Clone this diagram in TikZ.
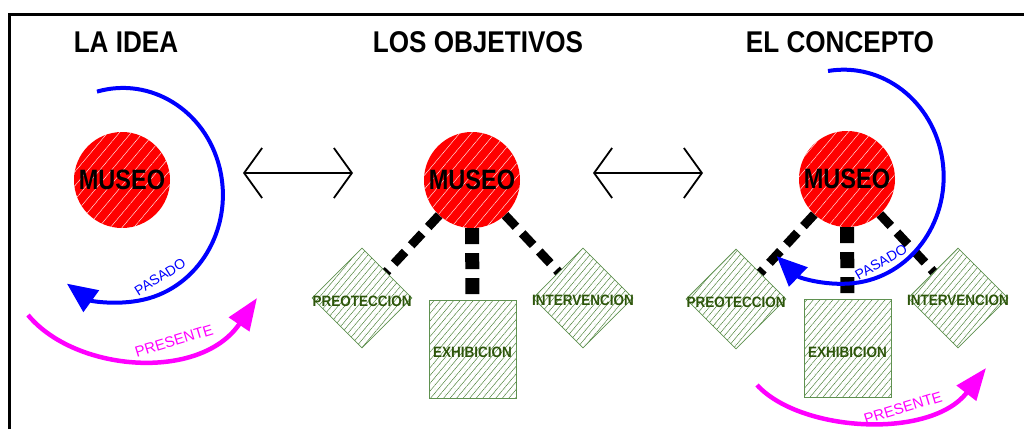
\documentclass[tikz,border=0pt]{standalone}
\usepackage{fontspec}
\usetikzlibrary{shapes.geometric,arrows.meta,patterns.meta}
\setmainfont{Liberation Sans}
\newfontfamily\headfont[FakeStretch=0.87]{Liberation Sans Bold}
\newfontfamily\museofont[FakeStretch=0.84]{Liberation Sans Bold}
\newfontfamily\objfont[FakeStretch=0.9]{Liberation Sans Bold}
\definecolor{objgreen}{RGB}{70,125,50}
\definecolor{objtextgreen}{RGB}{45,85,10}
\definecolor{objborder}{RGB}{95,145,80}
\definecolor{pinkline}{RGB}{255,0,255}
\definecolor{blueline}{RGB}{0,0,255}
\tikzset{
  title/.style={font=\headfont\fontsize{30}{30}\selectfont},
  museo/.style={circle,minimum size=96pt,inner sep=0pt,
    preaction={fill=red},
    pattern={Lines[angle=50,distance=9pt,line width=0.4pt]},pattern color=white,
    font=\museofont\fontsize{28}{28}\selectfont},
  objdiamond/.style={diamond,aspect=1,minimum size=100pt,inner sep=0pt,
    draw=objborder,line width=0.8pt,
    preaction={pattern={Dots[distance=5pt,radius=0.35pt]},pattern color=objgreen!70},
    pattern={Lines[angle=50,distance=5pt,line width=0.45pt]},pattern color=objgreen},
  objbox/.style={rectangle,minimum width=87pt,minimum height=98pt,inner sep=0pt,
    draw=objborder,line width=0.8pt,
    preaction={pattern={Dots[distance=5pt,radius=0.35pt]},pattern color=objgreen!70},
    pattern={Lines[angle=50,distance=5pt,line width=0.45pt]},pattern color=objgreen},
  objtext/.style={font=\objfont\fontsize{15}{15}\selectfont,text=objtextgreen,inner sep=0pt},
  link/.style={line width=9pt,dash pattern=on 16pt off 9pt},
  linkmid/.style={line width=14pt,dash pattern=on 16pt off 9pt},
  both/.style={line width=1.8pt,{Straight Barb[length=18pt,width=50pt]}-{Straight Barb[length=18pt,width=50pt]}},
  pasado/.style={blueline,line width=4pt,-{Triangle[length=30pt,width=26pt]}},
  presente/.style={pinkline,line width=4.5pt,-{Triangle[length=32pt,width=24pt]}},
  pasadotext/.style={text=blueline,font=\fontsize{14}{14}\selectfont,inner sep=0pt},
  presentetext/.style={text=pinkline,font=\fontsize{15}{15}\selectfont,inner sep=0pt}
}
\begin{document}
\begin{tikzpicture}[x=1pt,y=1pt]
  \useasboundingbox (0,0) rectangle (1024,-429);
  % frame
  \draw[line width=3pt] (9,-429) -- (9,-14) -- (1024,-14);

  % titles
  \node[title] (t1) at (126,-42) {LA IDEA};
  \node[title] (t2) at (478,-42) {LOS OBJETIVOS};
  \node[title] (t3) at (840,-42) {EL CONCEPTO};

  % la idea
  \node[museo] (museo1) at (122,-180) {MUSEO};
  \coordinate (pas1) at (97,-91.6);
  \draw[pasado] (pas1) arc[start angle=105,end angle=-124,x radius=100,y radius=107];
  \node[pasadotext,rotate=32] (pastxt1) at (160,-277) {PASADO};
  \coordinate (pre1a) at (28,-315);
  \coordinate (pre1b) at (257,-298);
  \draw[presente] (pre1a) .. controls (75,-372) and (200,-382) .. (pre1b);
  \node[presentetext,rotate=17] (pretxt1) at (174,-341) {PRESENTE};

  % double arrows
  \coordinate (d1l) at (243,-173);
  \coordinate (d1r) at (353,-173);
  \draw[both] (d1l) -- (d1r);
  \coordinate (d2l) at (593,-173);
  \coordinate (d2r) at (703,-173);
  \draw[both] (d2l) -- (d2r);

  % los objetivos
  \node[museo] (museo2) at (472,-180) {MUSEO};
  \node[objdiamond,label={[objtext,yshift=-3pt]center:PREOTECCION}] (prot2) at (362,-298) {};
  \node[objbox,label={[objtext,yshift=-3pt]center:EXHIBICION}] (exhib2) at (472.5,-349) {};
  \node[objdiamond,label={[objtext,yshift=-2pt]center:INTERVENCION}] (inter2) at (583,-298) {};
  \draw[link] (museo2) -- (prot2);
  \draw[linkmid] (museo2) -- (exhib2);
  \draw[link] (museo2) -- (inter2);

  % el concepto
  \node[museo] (museo3) at (847,-179) {MUSEO};
  \node[objdiamond,label={[objtext,yshift=-3pt]center:PREOTECCION}] (prot3) at (736,-299) {};
  \node[objbox,label={[objtext,yshift=-4pt]center:EXHIBICION}] (exhib3) at (847.5,-348.5) {};
  \node[objdiamond,label={[objtext,yshift=-2pt]center:INTERVENCION}] (inter3) at (958,-298) {};
  \draw[link] (museo3) -- (prot3);
  \draw[linkmid] (museo3) -- (exhib3);
  \draw[link] (museo3) -- (inter3);
  \coordinate (pas3) at (828,-71);
  \draw[pasado] (pas3) arc[start angle=99,end angle=-132,x radius=100,y radius=107];
  \node[pasadotext,rotate=30] (pastxt3) at (881,-262) {PASADO};
  \coordinate (pre3a) at (757,-385);
  \coordinate (pre3b) at (986,-368);
  \draw[presente] (pre3a) .. controls (800,-432) and (930,-440) .. (pre3b);
  \node[presentetext,rotate=17] (pretxt3) at (903,-408) {PRESENTE};
\end{tikzpicture}
\end{document}
